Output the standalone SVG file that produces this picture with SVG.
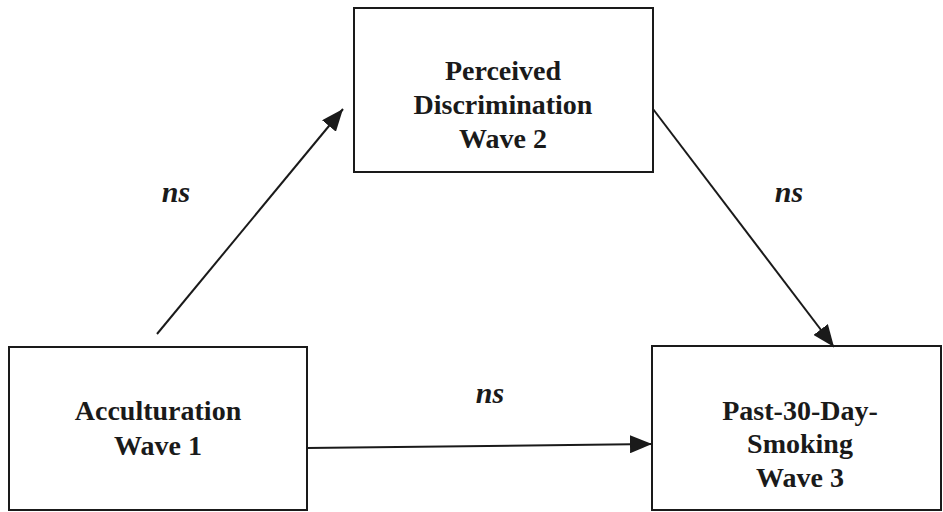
<svg xmlns="http://www.w3.org/2000/svg" width="943" height="512" viewBox="0 0 943 512">
<style>
.box{fill:#fff;stroke:#1a1a1a;stroke-width:2}
.t{font-family:"Liberation Serif","Times New Roman",serif;font-weight:bold;font-size:28px;fill:#1a1a1a;text-anchor:middle}
.ns{font-family:"Liberation Serif","Times New Roman",serif;font-weight:bold;font-style:italic;font-size:30px;fill:#1a1a1a;text-anchor:middle}
.c{stroke:#1a1a1a;stroke-width:2;fill:none;marker-end:url(#ah)}
</style>
<defs>
<marker id="ah" viewBox="0 0 22 18" refX="22" refY="9" markerWidth="22" markerHeight="18" markerUnits="userSpaceOnUse" orient="auto">
<path d="M0,0 L22,9 L0,18 Z" fill="#1a1a1a"/>
</marker>
</defs>
<g id="n-perceived">
<rect class="box" x="354" y="8" width="299" height="164"/>
<text class="t" x="503" y="80">Perceived</text>
<text class="t" x="503" y="114">Discrimination</text>
<text class="t" x="503" y="148">Wave 2</text>
</g>
<g id="n-acculturation">
<rect class="box" x="9" y="347" width="298" height="163"/>
<text class="t" x="158" y="420">Acculturation</text>
<text class="t" x="158" y="455">Wave 1</text>
</g>
<g id="n-smoking">
<rect class="box" x="652" y="346" width="289" height="164"/>
<text class="t" x="800" y="420">Past-30-Day-</text>
<text class="t" x="800" y="453">Smoking</text>
<text class="t" x="800" y="487">Wave 3</text>
</g>
<g id="connectors">
<line class="c" x1="157" y1="334" x2="343" y2="109"/>
<line class="c" x1="653" y1="109" x2="834" y2="347"/>
<line class="c" x1="307" y1="448" x2="652" y2="444"/>
</g>
<g id="labels">
<text class="ns" x="176" y="202">ns</text>
<text class="ns" x="789" y="202">ns</text>
<text class="ns" x="490" y="403">ns</text>
</g>
</svg>
